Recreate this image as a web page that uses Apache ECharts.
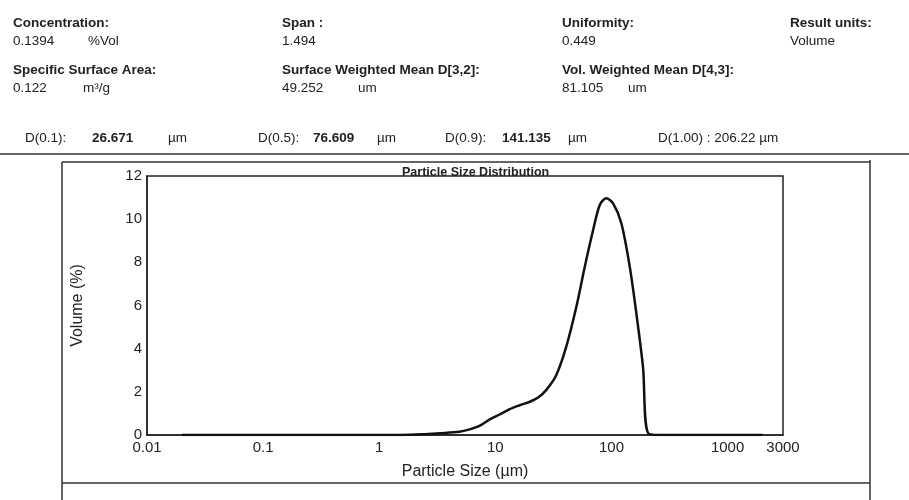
<!DOCTYPE html>
<html>
<head>
<meta charset="utf-8">
<script src="https://cdn.jsdelivr.net/npm/echarts@6/dist/echarts.min.js"></script>
<style>
  html, body { margin: 0; padding: 0; background: #fff; }
  #chart { width: 909px; height: 500px; }
</style>
</head>
<body>
<div id="chart"></div>
<script>
// particle size (um) and volume (%)
var sizeUm = [0.02, 0.5, 1.5, 2.37, 3.3, 4.9, 6.0, 7.3, 8.95, 10.9, 13.3, 16.2, 19.8, 23.5, 27.5, 33.5, 40.8, 49.9, 58.9, 69.5, 79.3, 90, 103, 121.6, 143.6, 163.7, 186.7, 210, 300, 1000, 2000];
var volumePct = [0, 0, 0, 0.03, 0.08, 0.15, 0.26, 0.42, 0.72, 0.95, 1.2, 1.38, 1.54, 1.75, 2.09, 2.78, 4.09, 5.95, 7.8, 9.5, 10.66, 10.97, 10.74, 9.81, 7.8, 5.64, 3.17, 0.05, 0, 0, 0];

var xTicks = [0.01, 0.1, 1, 10, 100, 1000, 3000];
var yTicks = [0, 2, 4, 6, 8, 10, 12];

var FONT = '"Liberation Sans", Arial, sans-serif';
var INK = '#222';

// header texts: [x, y, text, bold]
var header = [
    [13, 23, 'Concentration:', 1], [282, 23, 'Span :', 1], [562, 23, 'Uniformity:', 1], [790, 23, 'Result units:', 1],
    [13, 41, '0.1394', 0], [88, 41, '%Vol', 0], [282, 41, '1.494', 0], [562, 41, '0.449', 0], [790, 41, 'Volume', 0],
    [13, 70, 'Specific Surface Area:', 1], [282, 70, 'Surface Weighted Mean D[3,2]:', 1], [562, 70, 'Vol. Weighted Mean D[4,3]:', 1],
    [13, 88, '0.122', 0], [83, 88, 'm\u00b3/g', 0], [282, 88, '49.252', 0], [358, 88, 'um', 0], [562, 88, '81.105', 0], [628, 88, 'um', 0],
    [25, 138, 'D(0.1):', 0], [92, 138, '26.671', 1], [168, 138, '\u00b5m', 0],
    [258, 138, 'D(0.5):', 0], [313, 138, '76.609', 1], [377, 138, '\u00b5m', 0],
    [445, 138, 'D(0.9):', 0], [502, 138, '141.135', 1], [568, 138, '\u00b5m', 0],
    [658, 138, 'D(1.00) : 206.22 \u00b5m', 0]
];

var graphics = [];
for (var i = 0; i < header.length; i++) {
    graphics.push({
        type: 'text', x: header[i][0], y: header[i][1], silent: true,
        style: {
            text: header[i][2], fill: INK, fontSize: 13.5, fontFamily: FONT,
            fontWeight: header[i][3] ? 'bold' : 'normal', verticalAlign: 'middle'
        }
    });
}
// rules and frame of the report
var lines = [[0, 154, 909, 154], [62, 162, 870, 162], [62, 162, 62, 500], [870, 160, 870, 500], [62, 483, 870, 483]];
for (var k = 0; k < lines.length; k++) {
    graphics.push({
        type: 'line', silent: true,
        shape: { x1: lines[k][0], y1: lines[k][1], x2: lines[k][2], y2: lines[k][3] },
        style: { stroke: '#333', lineWidth: 1.5 }
    });
}

var data = [];
for (var j = 0; j < sizeUm.length; j++) {
    data.push([sizeUm[j], volumePct[j]]);
}

var myChart = echarts.init(document.getElementById('chart'));
var option = {
    backgroundColor: '#fff',
    animation: false,
    title: {
        text: 'Particle Size Distribution',
        left: 397, top: 161,
        textStyle: { fontSize: 12.5, fontWeight: 'bold', color: INK, fontFamily: FONT }
    },
    grid: {
        left: 147, top: 176, right: 126, bottom: 65,
        show: true, borderColor: INK, borderWidth: 1.5, backgroundColor: 'transparent'
    },
    xAxis: {
        type: 'log', logBase: 10, min: 0.01, max: 3000,
        name: 'Particle Size (\u00b5m)', nameLocation: 'middle', nameGap: 29,
        nameTextStyle: { fontSize: 16, color: INK, fontFamily: FONT },
        axisLine: { show: true, lineStyle: { color: INK, width: 1.5 } },
        axisTick: { show: false },
        splitLine: { show: false },
        axisLabel: {
            customValues: xTicks,
            margin: 5, fontSize: 15, color: INK, fontFamily: FONT,
            formatter: function (v) { return String(+(+v).toPrecision(6)); }
        }
    },
    yAxis: {
        type: 'value', min: 0, max: 12, interval: 2,
        name: 'Volume (%)', nameLocation: 'middle', nameGap: 61, nameRotate: 90,
        nameTextStyle: { fontSize: 16, color: INK, fontFamily: FONT },
        axisLine: { show: true, lineStyle: { color: INK, width: 1.5 } },
        axisTick: { show: false },
        splitLine: { show: false },
        axisLabel: {
            customValues: yTicks,
            margin: 5, fontSize: 15, color: INK, fontFamily: FONT
        }
    },
    series: [{
        type: 'line',
        data: data,
        showSymbol: false,
        smooth: 0.3,
        lineStyle: { color: '#111', width: 2.5 }
    }],
    graphic: graphics
};
myChart.setOption(option);
</script>
</body>
</html>
